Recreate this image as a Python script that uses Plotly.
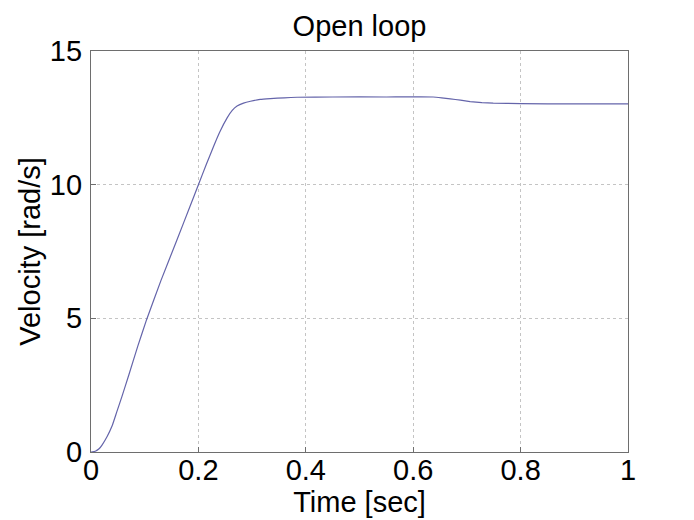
import plotly.graph_objects as go

# open loop velocity response
time_s = [0.0, 0.008, 0.015, 0.0205, 0.0298, 0.039, 0.048, 0.0577, 0.0707, 0.087,
          0.1035, 0.13, 0.16, 0.185, 0.2, 0.215, 0.228, 0.24, 0.2535, 0.263,
          0.272, 0.284, 0.297, 0.315, 0.334, 0.36, 0.384, 0.45, 0.55, 0.637,
          0.653, 0.669, 0.688, 0.706, 0.728, 0.749, 0.8, 0.9, 1.0]
velocity = [0.0, 0.03, 0.12, 0.26, 0.57, 0.96, 1.5, 2.08, 2.9, 3.95,
            4.95, 6.4, 7.93, 9.22, 10.0, 10.77, 11.42, 11.98, 12.5, 12.78,
            12.94, 13.05, 13.12, 13.19, 13.22, 13.25, 13.27, 13.28, 13.28, 13.28,
            13.25, 13.21, 13.16, 13.11, 13.07, 13.05, 13.03, 13.02, 13.02]

x_ticks = [0, 0.2, 0.4, 0.6, 0.8, 1]
x_labels = ['0', '0.2', '0.4', '0.6', '0.8', '1']
y_ticks = [0, 5, 10, 15]
y_labels = ['0', '5', '10', '15']

FONT = 29

fig = go.Figure()
fig.add_trace(go.Scatter(x=time_s, y=velocity, mode='lines', line_shape='spline',
                         line=dict(color='#6464aa', width=1.2, smoothing=0.4),
                         showlegend=False))

axis_style = dict(showline=True, mirror=True, linecolor='#6e6e6e', linewidth=1.2,
                  showgrid=True, gridcolor='#c4c4c4', griddash='dot', gridwidth=1,
                  zeroline=False, ticks='inside', ticklen=5, tickcolor='#6e6e6e',
                  tickfont=dict(size=FONT, color='black'), automargin=False)

fig.update_xaxes(range=[0, 1], tickvals=x_ticks, ticktext=x_labels, ticklabelstandoff=-8,
                 title=dict(text='Time [sec]', font=dict(size=FONT, color='black'), standoff=0),
                 **axis_style)
fig.update_yaxes(range=[0, 15], tickvals=y_ticks, ticktext=y_labels, ticklabelstandoff=2,
                 title=dict(text='Velocity [rad/s]', font=dict(size=FONT, color='black'), standoff=0),
                 **axis_style)

# the page body adds an 8px offset, so margins are shifted to compensate
fig.update_layout(
    width=694, height=520,
    font=dict(family='Liberation Sans, Arial', color='black'),
    title=dict(text='Open loop', x=0.5, xref='paper', y=0.966, yanchor='middle',
               xanchor='center', font=dict(size=FONT, color='black'), automargin=False),
    plot_bgcolor='white', paper_bgcolor='white',
    margin=dict(l=83, r=74, t=43, b=76),
)

fig.write_html("out.html")
